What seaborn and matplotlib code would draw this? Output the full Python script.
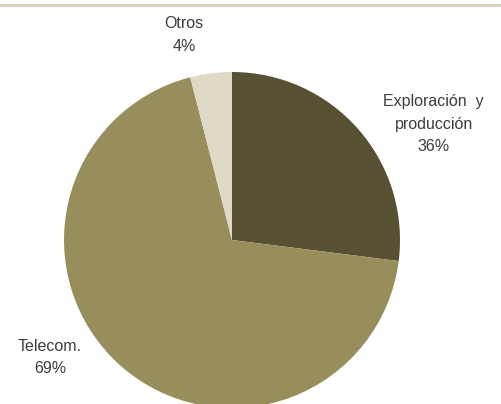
import matplotlib
matplotlib.use("Agg")
import matplotlib.pyplot as plt
import seaborn as sns
from matplotlib.lines import Line2D

sns.set_theme(style="white")
plt.rcParams['font.family'] = ['Liberation Sans Narrow', 'Liberation Sans', 'DejaVu Sans']

categories = ["Exploración  y\nproducción", "Telecom.", "Otros"]
shares = [27, 69, 4]
label_pcts = ["36%", "69%", "4%"]
colors = ["#575032", "#978e5b", "#dfdac6"]

fig = plt.figure(figsize=(5.02, 4.04), dpi=100)
W, H = 502, 404
cx, cy, r = 232, 240, 168
ax = fig.add_axes([(cx - r) / W, (H - cy - r) / H, 2 * r / W, 2 * r / H])
wedges, _ = ax.pie(shares, colors=colors, startangle=90, counterclock=False,
                   radius=1, wedgeprops=dict(linewidth=0))
for w in wedges:
    w.set_clip_on(False)
ax.set_xlim(-1, 1)
ax.set_ylim(-1, 1)
ax.set_aspect('equal')
ax.axis('off')

label_pos = [(1.20, 0.69), (-1.083, -0.70), (-0.286, 1.22)]
for cat, pct, (x, y) in zip(categories, label_pcts, label_pos):
    ax.text(x, y, f"{cat}\n{pct}", ha='center', va='center', fontsize=11.5,
            color='#3c3c3c', linespacing=1.65, clip_on=False)

fig.add_artist(Line2D([0, 1], [1 - 5 / H, 1 - 5 / H], color='#d9d3bd', lw=2.2,
                      transform=fig.transFigure))

fig.savefig("out.png", dpi=100)
